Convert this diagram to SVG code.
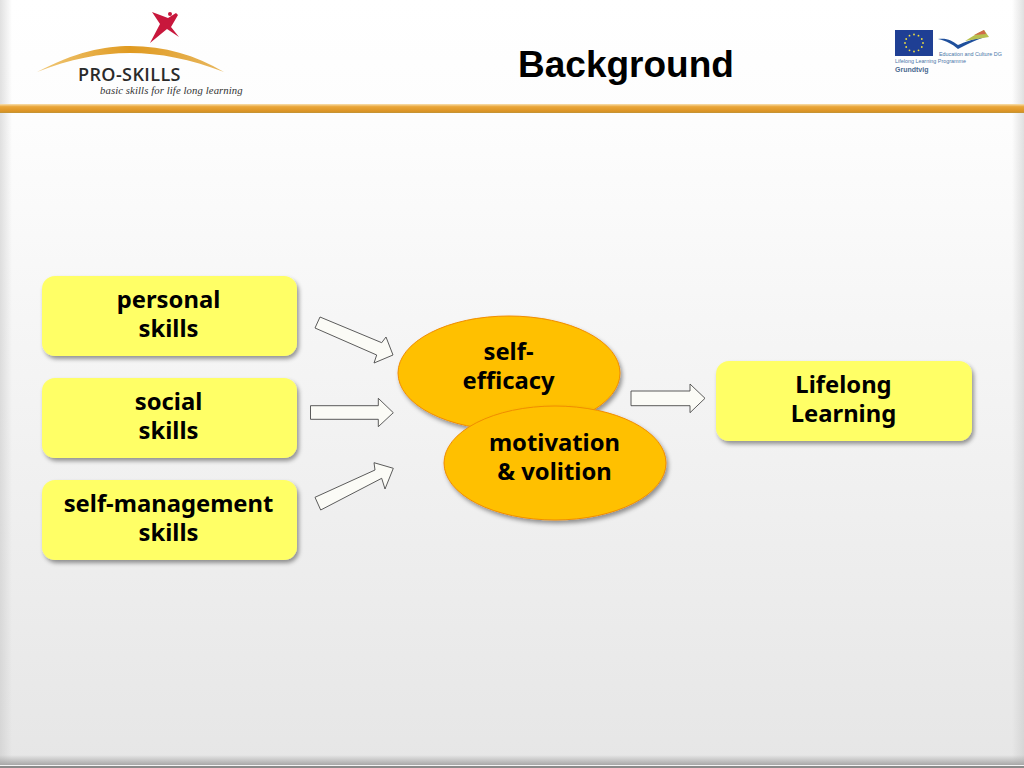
<svg xmlns="http://www.w3.org/2000/svg" width="1024" height="768" viewBox="0 0 1024 768">
<style>
.t{font-family:"Noto Sans","DejaVu Sans",sans-serif;font-weight:700;font-size:23.800px;fill:#000;text-anchor:middle}
.box{fill:#ffff66;filter:url(#sh)}
.el{fill:#ffc000;stroke:#f08c00;stroke-width:1;filter:url(#sh)}
.ar{fill:#fbfbf6;stroke:#4a4a4a;stroke-width:.9}
</style>
<defs>
<linearGradient id="bg" x1="0" y1="0" x2="0" y2="1"><stop offset="0" stop-color="#ffffff"/><stop offset=".16" stop-color="#fdfdfd"/><stop offset="1" stop-color="#e6e6e6"/></linearGradient>
<linearGradient id="band" x1="0" y1="0" x2="0" y2="1"><stop offset="0" stop-color="#f8e0b0"/><stop offset=".3" stop-color="#eaa63a"/><stop offset=".8" stop-color="#dc9424"/><stop offset="1" stop-color="#c09438"/></linearGradient>
<linearGradient id="lside" x1="0" y1="0" x2="1" y2="0"><stop offset="0" stop-color="#c8c8c8" stop-opacity=".55"/><stop offset="1" stop-color="#c8c8c8" stop-opacity="0"/></linearGradient>
<linearGradient id="rside" x1="1" y1="0" x2="0" y2="0"><stop offset="0" stop-color="#c8c8c8" stop-opacity=".55"/><stop offset="1" stop-color="#c8c8c8" stop-opacity="0"/></linearGradient>
<linearGradient id="bot" x1="0" y1="0" x2="0" y2="1"><stop offset="0" stop-color="#a8a8a8" stop-opacity="0"/><stop offset="1" stop-color="#a8a8a8"/></linearGradient>
<linearGradient id="arc" x1="0" y1="0" x2="1" y2="0"><stop offset="0" stop-color="#f0c878"/><stop offset=".5" stop-color="#e09a20"/><stop offset="1" stop-color="#e8b860"/></linearGradient>
<filter id="sh" x="-10%" y="-10%" width="125%" height="130%"><feDropShadow dx="2" dy="3" stdDeviation="2" flood-color="#000" flood-opacity=".4"/></filter>
</defs>
<g id="background">
<rect width="1024" height="768" fill="url(#bg)"/>
<rect width="12" height="768" fill="url(#lside)"/>
<rect x="1012" width="12" height="768" fill="url(#rside)"/>
<rect y="755" width="1024" height="10" fill="url(#bot)"/>
<rect y="765" width="1024" height="1" fill="#f4f4f4"/>
<rect y="766" width="1024" height="2" fill="#8a8a8a"/>
<rect y="104" width="1024" height="9" fill="url(#band)"/>
</g>
<g id="logo">
<path d="M37 72C75 52 105 46 130 46C165 46 195 55 224 72C190 59 160 53 130 53C100 53 70 59 37 72Z" fill="url(#arc)"/>
<path d="M152 12L168 18L176 13L178 15L171 27L179 37L167 29L150 43L160 24Z" fill="#c8173c"/>
<circle cx="170" cy="14" r="2" fill="#c8173c"/>
<text x="78" y="81" font-family="'Open Sans','Noto Sans',sans-serif" font-weight="600" font-size="18" letter-spacing=".4" fill="#2a2a2a">PRO-SKILLS</text>
<text x="100" y="94" font-family="'Liberation Serif',serif" font-style="italic" font-size="10.700" letter-spacing=".1" fill="#333">basic skills for life long learning</text>
</g>
<text id="title" x="626" y="77" font-family="'Liberation Sans',Arial,sans-serif" font-weight="700" font-size="37" text-anchor="middle" fill="#000">Background</text>
<g id="eu-logo">
<rect x="895" y="30" width="38" height="26" fill="#1f3f94"/>
<g fill="#f0e040"><circle cx="914" cy="34.500" r=".9"/><circle cx="918.500" cy="35.700" r=".9"/><circle cx="921.800" cy="39" r=".9"/><circle cx="923" cy="43" r=".9"/><circle cx="921.800" cy="47" r=".9"/><circle cx="918.500" cy="50.300" r=".9"/><circle cx="914" cy="51.500" r=".9"/><circle cx="909.500" cy="50.300" r=".9"/><circle cx="906.200" cy="47" r=".9"/><circle cx="905" cy="43" r=".9"/><circle cx="906.200" cy="39" r=".9"/><circle cx="909.500" cy="35.700" r=".9"/></g>
<path d="M938 39C948 38 952 41 958 45C965 42 972 39 985 37C973 41 966 45 958 49C952 44 947 41 938 39Z" fill="#1f4f9c"/>
<path d="M965 41L978 33L984 30L989 37Z" fill="#b8c050"/>
<path d="M974 35L984 30L986 34Z" fill="#d06a4a"/>
<text x="939" y="55.500" font-family="'Liberation Sans',sans-serif" font-size="5.400" fill="#4a76a8">Education and Culture DG</text>
<text x="895" y="63" font-family="'Liberation Sans',sans-serif" font-size="5.400" fill="#4a76a8">Lifelong Learning Programme</text>
<text x="895" y="72" font-family="'Liberation Sans',sans-serif" font-size="7" font-weight="700" fill="#4a6a90">Grundtvig</text>
</g>
<g id="n-personal"><rect class="box" x="42" y="276" width="255" height="80" rx="13"/><text class="t"><tspan x="168.500" y="308">personal</tspan><tspan x="168.500" y="337">skills</tspan></text></g>
<g id="n-social"><rect class="box" x="42" y="378" width="255" height="80" rx="13"/><text class="t"><tspan x="168.500" y="410">social</tspan><tspan x="168.500" y="439">skills</tspan></text></g>
<g id="n-selfmgmt"><rect class="box" x="42" y="480" width="255" height="80" rx="13"/><text class="t"><tspan x="168.500" y="512">self-management</tspan><tspan x="168.500" y="541">skills</tspan></text></g>
<g id="n-lifelong"><rect class="box" x="716" y="361" width="256" height="80" rx="13"/><text class="t"><tspan x="843.500" y="393">Lifelong</tspan><tspan x="843.500" y="422">Learning</tspan></text></g>
<g id="n-efficacy"><ellipse class="el" cx="509" cy="373" rx="111" ry="57"/><text class="t"><tspan x="508.500" y="360">self-</tspan><tspan x="508.500" y="389">efficacy</tspan></text></g>
<g id="n-motivation"><ellipse class="el" cx="555" cy="463" rx="111" ry="57"/><text class="t"><tspan x="554.500" y="451">motivation</tspan><tspan x="554.500" y="480">&amp; volition</tspan></text></g>
<g id="connectors">
<polygon class="ar" points="315,328 320,317 381.700,342.700 386,337 393,355 374,363 376.700,355"/>
<polygon class="ar" points="310.500,405.700 378.300,405.700 378.300,398.300 393.300,412.700 378.300,426.700 378.300,419.300 310.500,419.300"/>
<polygon class="ar" points="315,497.300 375,470 374,462.700 393.300,468.300 385,489 381.700,478.300 320.700,510"/>
<polygon class="ar" points="631,391 690,391 690,384 705,398.300 690,412.700 690,405.700 631,405.700"/>
</g>
</svg>
